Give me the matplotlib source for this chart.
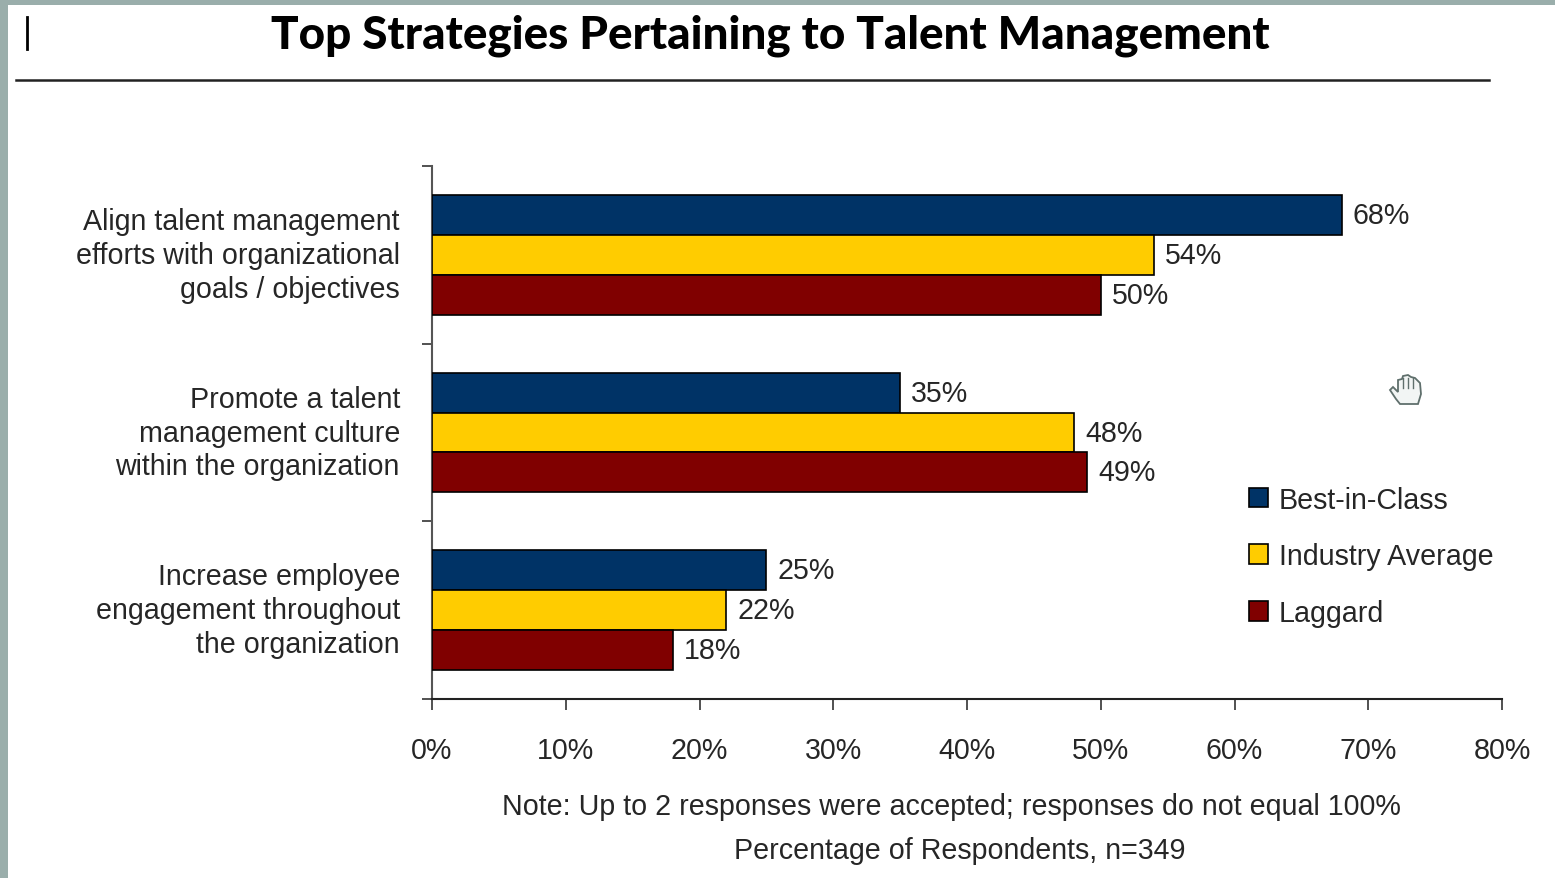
import matplotlib
matplotlib.use("Agg")
import matplotlib.pyplot as plt
from matplotlib.lines import Line2D
from matplotlib.patches import Patch, Polygon, Rectangle

W, H = 1555, 879

categories = ["Align talent management\nefforts with organizational\ngoals / objectives",
              "Promote a talent\nmanagement culture\nwithin the organization",
              "Increase employee\nengagement throughout\nthe organization"]
best = [68, 35, 25]
industry = [54, 48, 22]
laggard = [50, 49, 18]
series_names = ["Best-in-Class", "Industry Average", "Laggard"]
colors = ["#003366", "#FFCC00", "#800000"]
xticks = [0, 10, 20, 30, 40, 50, 60, 70, 80]

plt.rcParams["font.family"] = ["Liberation Sans", "DejaVu Sans"]
TXT = "#262626"
FS = 20.6


def fx(x):
    return x / W


def fy(y):
    return 1 - y / H


fig = plt.figure(figsize=(W / 100, H / 100), dpi=100, facecolor="white")

# grey slide border top and left
fig.add_artist(Rectangle((0, fy(6)), 1, 6 / H, transform=fig.transFigure, color="#9AAEAB", lw=0))
fig.add_artist(Rectangle((0, 0), 8 / W, 1, transform=fig.transFigure, color="#9AAEAB", lw=0))

# plot area
ax = fig.add_axes([fx(432), fy(700), (1502 - 432) / W, (700 - 167) / H])
h = 0.225
y = [0, 1, 2]
groups = [best, industry, laggard]
for i, vals in enumerate(groups):
    pos = [p + (i - 1) * h for p in y]
    bars = ax.barh(pos, vals, height=h, color=colors[i], edgecolor="black", linewidth=1.2, zorder=3)
    ax.bar_label(bars, fmt="%g%%", padding=8, fontsize=FS, color=TXT)

ax.set_xlim(0, 80)
ax.set_ylim(2.5, -0.5)
ax.set_xticks(xticks, [f"{t}%" for t in xticks], fontsize=FS, color=TXT)
ax.set_yticks([-0.5, 0.5, 1.5, 2.5], [])
ax.tick_params(axis="x", length=8, width=1.2, pad=19, color="#333333")
ax.tick_params(axis="y", length=7.5, width=1.2, color="#333333")
for s in ["top", "right"]:
    ax.spines[s].set_visible(False)
ax.spines["left"].set_color("#555555")
ax.spines["left"].set_linewidth(1.5)
ax.spines["bottom"].set_color("#222222")
ax.spines["bottom"].set_linewidth(1.5)

# category labels, right aligned
for p, c in zip(y, categories):
    ax.text(-2.4, p, c, ha="right", va="center", fontsize=FS, color=TXT, linespacing=1.26)

# legend
handles = [Patch(facecolor=c, edgecolor="black", linewidth=1.2) for c in colors]
fig.legend(handles, series_names, loc="upper left", bbox_to_anchor=(fx(1240), fy(478)),
           frameon=False, fontsize=FS, labelcolor=TXT, handlelength=0.68, handleheight=0.68,
           handletextpad=0.38, labelspacing=1.0, borderpad=0.3, borderaxespad=0)

# title and rule
fig.text(fx(770), fy(36), "Top Strategies Pertaining to Talent Management", ha="center", va="center",
         family="Lato", weight="black", fontsize=33, color="black")
fig.add_artist(Line2D([fx(16), fx(1489)], [fy(81), fy(81)], color="#222222", lw=1.8))
fig.add_artist(Line2D([fx(27), fx(27)], [fy(18), fy(50)], color="black", lw=2))

# notes under the axis
fig.text(fx(951), fy(807), "Note: Up to 2 responses were accepted; responses do not equal 100%",
         ha="center", va="center", fontsize=FS, color=TXT)
fig.text(fx(960), fy(851), "Percentage of Respondents, n=349", ha="center", va="center", fontsize=FS, color=TXT)

# hand cursor left in the screenshot
hand = [(1390, 391), (1393, 388), (1398, 393), (1398, 381), (1402, 380), (1403, 377), (1408, 376),
        (1411, 378), (1415, 379), (1417, 381), (1420, 384), (1421, 395), (1418, 405), (1400, 405), (1396, 400)]
fig.add_artist(Polygon([(fx(a), fy(b)) for a, b in hand], closed=True, transform=fig.transFigure,
                       facecolor="#F2F5F4", edgecolor="#5F6F6C", lw=1.3))
for a in [1403, 1408, 1413]:
    fig.add_artist(Line2D([fx(a), fx(a)], [fy(379), fy(389)], color="#5F6F6C", lw=1))

fig.savefig("out.png", dpi=100)
